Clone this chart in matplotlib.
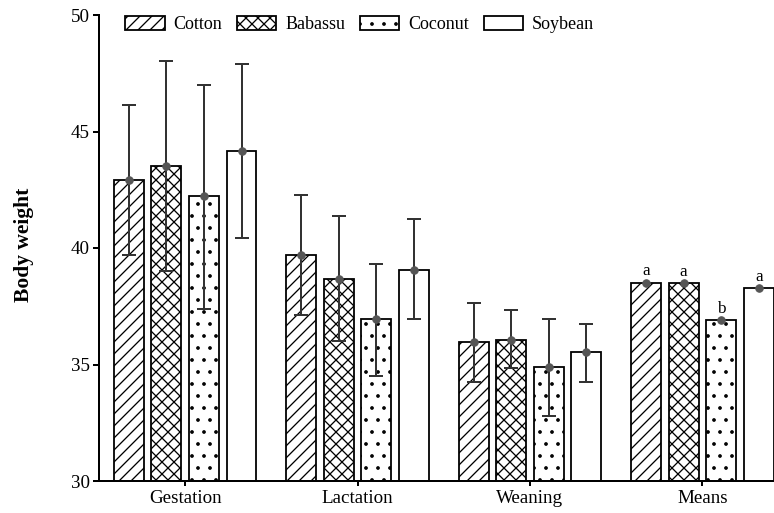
import numpy as np
import matplotlib
matplotlib.use('Agg')
import matplotlib.pyplot as plt

plt.rcParams['font.family'] = ['Liberation Serif', 'DejaVu Serif']
plt.rcParams['hatch.linewidth'] = 1.3

groups = ['Gestation', 'Lactation', 'Weaning', 'Means']
oils = ['Cotton', 'Babassu', 'Coconut', 'Soybean']
hatches = ['//', 'xx', '.', '']

# bar heights per oil, over the four groups
cotton = [42.93, 39.71, 35.98, 38.50]
babassu = [43.52, 38.68, 36.04, 38.48]
coconut = [42.23, 36.94, 34.89, 36.90]
soybean = [44.16, 39.07, 35.52, 38.28]

# error bar ends (upper / lower), means group has none
cotton_hi = [46.15, 42.27, 37.65]
cotton_lo = [39.70, 37.14, 34.24]
babassu_hi = [48.01, 41.39, 37.33]
babassu_lo = [39.01, 36.00, 34.84]
coconut_hi = [47.00, 39.33, 36.94]
coconut_lo = [37.40, 34.51, 32.78]
soybean_hi = [47.90, 41.26, 36.75]
soybean_lo = [40.43, 36.94, 34.24]

letters = ['a', 'a', 'b', 'a']

values = [cotton, babassu, coconut, soybean]
his = [cotton_hi, babassu_hi, coconut_hi, soybean_hi]
los = [cotton_lo, babassu_lo, coconut_lo, soybean_lo]

fig = plt.figure(figsize=(774 / 72, 513 / 72), dpi=72)
ax = fig.add_axes([99 / 774, 1 - 481 / 513, 1 - 99 / 774, (481 - 15) / 513])

x = np.arange(len(groups))
pitch = 0.2177
width = 0.1737

for i, name in enumerate(oils):
    xs = x + (i - 1.5) * pitch
    ax.bar(xs, values[i], width=width, bottom=0, color='white', edgecolor='black',
           linewidth=1.8, hatch=hatches[i], label=name, zorder=2)
    v = np.array(values[i][:3])
    hi = np.array(his[i])
    lo = np.array(los[i])
    ax.errorbar(xs[:3], v, yerr=[v - lo, hi - v], fmt='none', ecolor='#333333',
                elinewidth=2, capsize=7, capthick=2, zorder=3)
    ax.plot(xs, values[i], 'o', color='#555555', markersize=7.5, zorder=4)
    # significance letter over the means bar
    ax.text(xs[3], values[i][3] + 0.15, letters[i], ha='center', va='bottom',
            fontsize=17, zorder=5)

ax.set_xlim(-0.5, 3.415)
ax.set_ylim(30, 50)
ax.set_yticks([30, 35, 40, 45, 50])
ax.set_xticks(x)
ax.set_xticklabels(groups)
ax.tick_params(axis='both', labelsize=19, width=2, length=6, direction='out', pad=3)
ax.tick_params(axis='x', length=5, pad=4)

for s in ['top', 'right']:
    ax.spines[s].set_visible(False)
for s in ['left', 'bottom']:
    ax.spines[s].set_linewidth(2)

fig.text(24 / 774, 1 - 245 / 513, 'Body weight', rotation=90, ha='center', va='center',
         fontsize=21.5, fontweight='bold')

ax.legend(loc='upper left', bbox_to_anchor=(125 / 774, 1 - 16 / 513),
          bbox_transform=fig.transFigure, ncol=4, frameon=False, fontsize=18,
          handlelength=2.2, handleheight=0.8, handletextpad=0.5, columnspacing=0.8,
          borderpad=0, borderaxespad=0)

fig.savefig('out.png', dpi=72)
